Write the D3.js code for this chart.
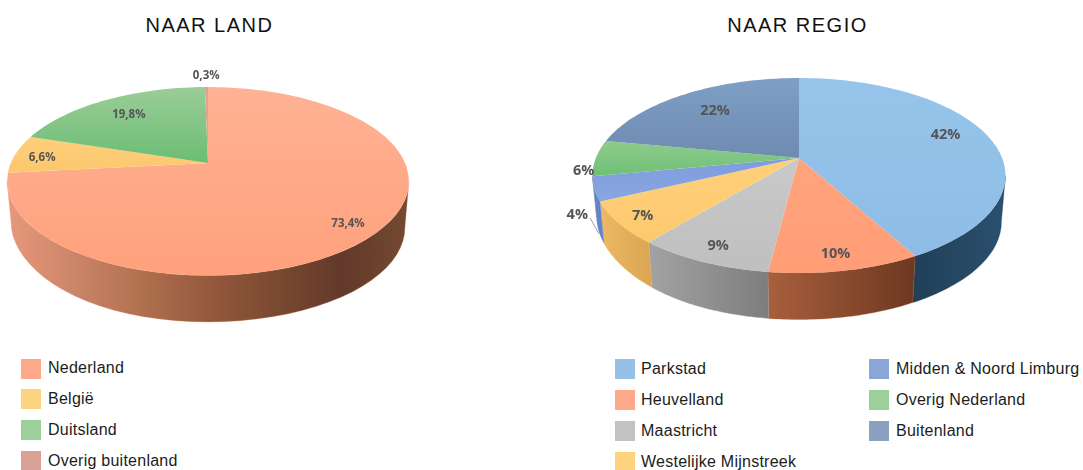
<!DOCTYPE html>
<html><head><meta charset="utf-8">
<script src="https://cdn.jsdelivr.net/npm/d3@7"></script>
<style>
html,body{margin:0;padding:0;background:#fff;overflow:hidden}
svg{display:block}
.pie{filter:blur(.5px)}
.title{font-family:"Liberation Sans",sans-serif;font-size:20px;letter-spacing:1.5px;fill:#111;text-anchor:middle}
.leg{font-family:"Liberation Sans",sans-serif;font-size:16px;letter-spacing:.25px;fill:#1c1c1c}
.lab{font-family:"Open Sans",sans-serif;font-weight:700;fill:#555;text-anchor:middle;dominant-baseline:central}
</style></head><body>
<svg id="c" width="1083" height="470"></svg>
<script>
// ---- data ----
const landNames = ["Nederland","België","Duitsland","Overig buitenland"];
const landValues = [73.4,6.6,19.8,0.3];
const landLabels = ["73,4%","6,6%","19,8%","0,3%"];
const regioNames = ["Parkstad","Heuvelland","Maastricht","Westelijke Mijnstreek","Midden & Noord Limburg","Overig Nederland","Buitenland"];
const regioValues = [42,10,9,7,4,6,22];
const regioLabels = ["42%","10%","9%","7%","4%","6%","22%"];
// ---- styling ----
const landLegend = ["#ffa98b","#ffd27f","#9dcf9b","#d8a096"];
const regioLegend = ["#95c1e6","#ffa98b","#c2c2c2","#ffd27f","#8aa5d8","#9dcf9b","#8aa2bf"];
const landTop = [["#ffb294","#ffa07b"],["#fdd07c","#fcc76c"],["#9bcd97","#6bbd74"],["#dca58f","#dca58f"]];
const regioTop = [["#96c4ea","#8dbde6"],["#ffa47e","#ff9d76"],["#c9c9c9","#bfbfbf"],["#ffd07a","#fdc96e"],["#7f9ddc","#88a6e0"],["#8fcb8c","#6fc076"],["#7f9fc4","#6e8bb0"]];
const landWall = [["#e8987b","#cb8568","#b0714f","#96593d","#7a4a30","#62392a","#744a30"],["#d0876a","#d0876a"],["#888","#888"],["#888","#888"]];
const regioWall = [["#1f4057","#2b4f6f"],["#a85f3d","#6d3821"],["#a3a3a3","#7d7d7d"],["#edb964","#dba552"],["#5f86cc","#5f86cc"],["#888","#888"],["#888","#888"]];
const landLabelPos = [[.85,0,2],[.86,0,1],[.75,0,-1],[1.2,0,0]];
const regioLabelPos = [[.77,0,-7],[.86,-2,1],[.86,0,0],[.88,0,0],[1.12,9,21],[1.06,0,11],[.74,3,0]];

const svg = d3.select("#c"), defs = svg.append("defs");
let gid = 0;
function gradient(stops, x1, y1, x2, y2){
  const id = "g" + (gid++);
  const g = defs.append("linearGradient").attr("id", id).attr("gradientUnits","userSpaceOnUse")
    .attr("x1",x1).attr("y1",y1).attr("x2",x2).attr("y2",y2);
  stops.forEach((c,i)=>g.append("stop").attr("offset", i/(stops.length-1)).attr("stop-color",c));
  return `url(#${id})`;
}
const line = d3.line();

function pie3d(o){
  const g = svg.append("g").attr("class","pie");
  const k = (o.near-o.far)/(o.near+o.far);
  const ry = o.near*(1-k), rx = o.half*Math.sqrt(1-k*k);
  const proj = (a,f=1)=>{
    const u=Math.sin(a)*f, v=-Math.cos(a)*f, w=1-k*v;
    return [o.cx+rx*u/w, o.cy+ry*v/w];
  };
  const low = p=>{
    const n=Math.max(0,(o.cx-p[0])/o.half);
    return [o.cx+(p[0]-o.cx)*o.shrink, p[1]+o.depth*(1-.12*n*n*n*n)];
  };
  const arcs = d3.pie().sort(null)(o.values);
  const samples = (a0,a1)=>d3.range(0,41).map(i=>a0+(a1-a0)*i/40);
  const off = (o.near-o.far)/2;
  // visible part of the side wall: the rim between the ellipse's left and right extremes
  const visA = Math.PI/2 + Math.asin(off/(ry+k*off));
  const visB = 2*Math.PI - visA;
  arcs.forEach((d,i)=>{
    const a0=Math.max(d.startAngle,visA), a1=Math.min(d.endAngle,visB);
    if(a1<=a0) return;
    const top=samples(a0,a1).map(a=>proj(a));
    const bot=top.map(low);
    const xs=top.concat(bot).map(p=>p[0]);
    g.append("path").attr("d",line(top.concat(bot.reverse()))+"Z")
      .attr("fill",gradient(o.wall[i],d3.min(xs),0,d3.max(xs),0))
      .attr("stroke",o.wall[i][0]).attr("stroke-width",.3);
  });
  arcs.forEach((d,i)=>{
    const pts=[[o.cx,o.cy]].concat(samples(d.startAngle,d.endAngle).map(a=>proj(a)));
    const ys=pts.map(p=>p[1]);
    g.append("path").attr("d",line(pts)+"Z")
      .attr("fill",gradient(o.top[i],0,d3.min(ys),0,d3.max(ys)));
  });
  arcs.forEach((d,i)=>{
    const [f,dx,dy]=o.labelPos[i];
    const p=proj((d.startAngle+d.endAngle)/2,f);
    g.append("text").attr("class","lab").attr("x",p[0]+dx).attr("y",p[1]+dy)
      .attr("font-size",o.labelSize).text(o.labels[i]);
  });
  return {proj,arcs,g};
}

pie3d({cx:208,cy:163,half:201,far:76,near:112.5,depth:46.5,shrink:.98,values:landValues,labels:landLabels,
  top:landTop,wall:landWall,labelPos:landLabelPos,labelSize:11.5});
const r = pie3d({cx:799,cy:158,half:206.5,far:80,near:115,depth:46.5,shrink:.98,values:regioValues,labels:regioLabels,
  top:regioTop,wall:regioWall,labelPos:regioLabelPos,labelSize:14.5});
// leader line of the 4% label
const a4=(r.arcs[4].startAngle+r.arcs[4].endAngle)/2;
const e=r.proj(a4-.23,1), s=r.proj(a4,1.12);
r.g.append("line").attr("x1",s[0]+21.7).attr("y1",s[1]+25).attr("x2",e[0]-8.4).attr("y2",e[1]+22)
  .attr("stroke","#a0a0a0").attr("stroke-width",1);

svg.append("text").attr("class","title").attr("x",209.5).attr("y",32).text("NAAR LAND");
svg.append("text").attr("class","title").attr("x",797.5).attr("y",32).text("NAAR REGIO");

function legend(names,colors,x,ys,tx,bases){
  names.forEach((n,i)=>{
    svg.append("rect").attr("x",x).attr("y",ys[i]).attr("width",20).attr("height",20).attr("fill",colors[i]);
    svg.append("text").attr("class","leg").attr("x",tx).attr("y",bases[i]).text(n);
  });
}
legend(landNames,landLegend,21,[359,389,420,451],48,[373,404,435,466]);
legend(regioNames.slice(0,4),regioLegend.slice(0,4),615,[359,390,421,452],641,[374,405,436,467]);
legend(regioNames.slice(4),regioLegend.slice(4),869,[359,390,421],896,[374,405,436]);
</script></body></html>
